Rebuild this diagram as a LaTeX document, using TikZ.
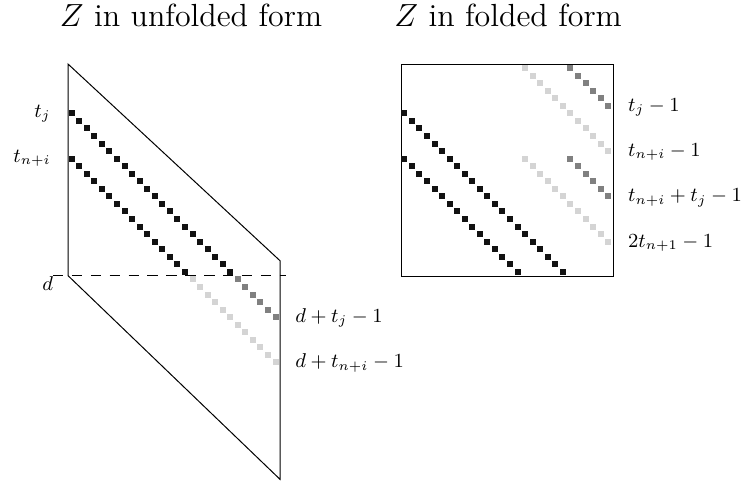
\documentclass[tikz,border=0pt]{standalone}
\begin{document}
\begin{tikzpicture}[x=0.45pt,y=-0.45pt,
  frame/.style={line width=0.45pt,black},
  lab/.style={inner sep=0pt,font=\small},
  ttl/.style={inner sep=0pt,anchor=base west,font=\Large},
  blk/.style={fill=black!93},
  gry/.style={fill=black!50},
  lgr/.style={fill=black!17}]
\useasboundingbox (0,0) rectangle (746,483);
\def\u{7.55}
\def\h{3}
\def\s{6}
% titles
\node[ttl] (t1) at (59.5,26.7) {$Z$ in unfolded form};
\node[ttl] (t2) at (394,26.7) {$Z$ in folded form};
% unfolded parallelogram
\coordinate (A) at (68,64);
\coordinate (B) at (280,260.7);
\coordinate (C) at (280,479.3);
\coordinate (D) at (68,275.6);
\draw[frame] (A) -- (B) -- (C) -- (D) -- cycle;
\coordinate (E1) at (53,275.6);
\coordinate (E2) at (286,275.6);
\draw[frame,dash pattern=on 4.7pt off 3.8pt] (E1) -- (E2);
% unfolded squares
\foreach \c in {0,...,21} \fill[blk] ({71.7+\u*\c-\h},{68+\u*(6+\c)-\h}) rectangle ++(\s,\s);
\foreach \c in {22,...,27} \fill[gry] ({71.7+\u*\c-\h},{68+\u*(6+\c)-\h}) rectangle ++(\s,\s);
\foreach \c in {0,...,15} \fill[blk] ({71.7+\u*\c-\h},{68+\u*(12+\c)-\h}) rectangle ++(\s,\s);
\foreach \c in {16,...,27} \fill[lgr] ({71.7+\u*\c-\h},{68+\u*(12+\c)-\h}) rectangle ++(\s,\s);
% unfolded labels
\node[lab,anchor=east] (ltj) at (51,113.3) {$t_j$};
\node[lab,anchor=east] (ltn) at (51,158.6) {$t_{n+i}$};
\node[lab,anchor=base east] (ld) at (53.5,290.7) {$d$};
\node[lab,anchor=base west] (ldt) at (295,{68+\u*33+5.5}) {$d+t_j-1$};
\node[lab,anchor=base west] (ldn) at (295,{68+\u*39+5.5}) {$d+t_{n+i}-1$};
% folded box
\coordinate (F1) at (401,64);
\coordinate (F2) at (613,276.5);
\draw[frame] (F1) rectangle (F2);
\foreach \c in {0,...,21} \fill[blk] ({404.3+\u*\c-\h},{68+\u*(6+\c)-\h}) rectangle ++(\s,\s);
\foreach \c in {0,...,15} \fill[blk] ({404.3+\u*\c-\h},{68+\u*(12+\c)-\h}) rectangle ++(\s,\s);
\foreach \c in {22,...,27} \fill[gry] ({404.3+\u*\c-\h},{68+\u*(\c-22)-\h}) rectangle ++(\s,\s);
\foreach \c in {16,...,27} \fill[lgr] ({404.3+\u*\c-\h},{68+\u*(\c-16)-\h}) rectangle ++(\s,\s);
\foreach \c in {22,...,27} \fill[gry] ({404.3+\u*\c-\h},{68+\u*(\c-10)-\h}) rectangle ++(\s,\s);
\foreach \c in {16,...,27} \fill[lgr] ({404.3+\u*\c-\h},{68+\u*(\c-4)-\h}) rectangle ++(\s,\s);
% folded labels
\node[lab,anchor=base west] (r1) at (627.7,{68+\u*5+5.5}) {$t_j-1$};
\node[lab,anchor=base west] (r2) at (627.7,{68+\u*11+5.5}) {$t_{n+i}-1$};
\node[lab,anchor=base west] (r3) at (627.7,{68+\u*17+5.5}) {$t_{n+i}+t_j-1$};
\node[lab,anchor=base west] (r4) at (627.7,{68+\u*23+5.5}) {$2t_{n+1}-1$};
\end{tikzpicture}
\end{document}
